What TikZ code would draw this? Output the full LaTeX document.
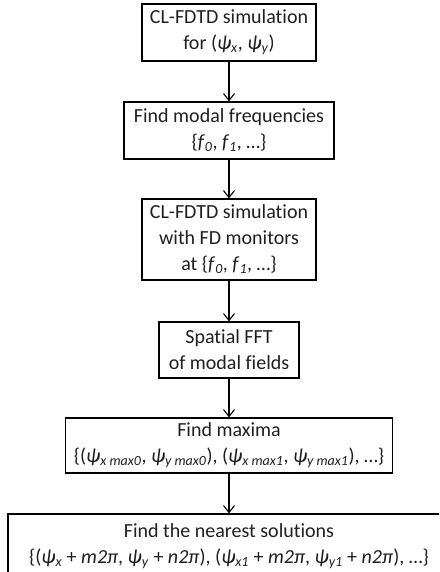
\documentclass[tikz,border=0pt]{standalone}
\usepackage{fontspec}
\setmainfont{Carlito}[Ligatures={NoCommon}]
\usetikzlibrary{arrows.meta}
\newcommand{\psub}[1]{\textit{ψ}\textsubscript{\textit{#1}}}
\newcommand{\fsub}[1]{\textit{f}\textsubscript{\textit{#1}}}
\tikzset{
  stepbox/.style={draw, line width=1.2pt, align=center, inner sep=0pt,
    font=\fontsize{20}{26}\selectfont, text=black!88},
  flow/.style={-{Straight Barb[length=7pt,width=11pt]}, line width=1.1pt},
}
\begin{document}
\begin{tikzpicture}[x=1pt,y=-1pt]
\clip (0,0) rectangle (439,572);
\node[stepbox, minimum width=174pt, minimum height=57pt] (sim) at (229,32.5)
  {CL-FDTD simulation\\for (\psub{x}, \psub{y})};
\node[stepbox, minimum width=210pt, minimum height=57pt] (freq) at (229,130.5)
  {Find modal frequencies\\\{\fsub{0}, \fsub{1}, …\}};
\node[stepbox, minimum width=174pt, minimum height=81pt] (mon) at (229,239.5)
  {CL-FDTD simulation\\with FD monitors\\at \{\fsub{0}, \fsub{1}, …\}};
\node[stepbox, minimum width=140pt, minimum height=56pt] (fft) at (229,350)
  {Spatial FFT\\of modal fields};
\node[stepbox, minimum width=327pt, minimum height=55pt] (maxima) at (229,445.5)
  {Find maxima\\\{(\psub{x max0}, \psub{y max0}), (\psub{x max1}, \psub{y max1}), …\}};
\node[stepbox, minimum width=442pt, minimum height=64pt] (nearest) at (229,546)
  {Find the nearest solutions\\\{(\psub{x} + \textit{m2π}, \psub{y} + \textit{n2π}), (\psub{x1} + \textit{m2π}, \psub{y1} + \textit{n2π}), …\}};
\foreach \a/\b in {sim/freq,freq/mon,mon/fft,fft/maxima,maxima/nearest} {
  \draw[flow] (\a) -- (\b);
}
\end{tikzpicture}
\end{document}
